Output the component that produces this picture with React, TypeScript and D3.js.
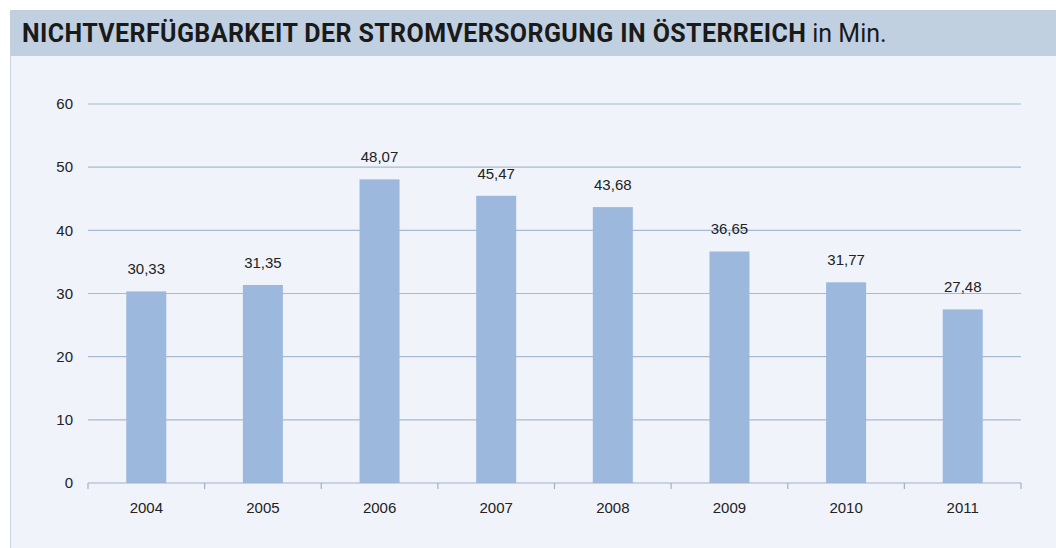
import React from "react";
import * as d3 from "d3";

const years = ["2004", "2005", "2006", "2007", "2008", "2009", "2010", "2011"];
const values = [30.33, 31.35, 48.07, 45.47, 43.68, 36.65, 31.77, 27.48];
const yTicks = [0, 10, 20, 30, 40, 50, 60];

const W = 1056;
const H = 548;
const M = { left: 88, right: 1021, top: 104, bottom: 483 };

export default function App() {
  const x = d3.scaleBand<string>().domain(years).range([M.left, M.right]).paddingInner(0.657).paddingOuter(0.328);
  const xb = d3.scaleBand<string>().domain(years).range([M.left, M.right]);
  const y = d3.scaleLinear().domain([0, 60]).range([M.bottom, M.top]);
  const fmt = (v: number) => v.toFixed(2).replace(".", ",");
  return (
    <svg width={W} height={H} style={{ position: "absolute", left: 0, top: 0 }} fontFamily="'Liberation Sans', Arial, sans-serif">
      <rect x={0} y={0} width={W} height={H} fill="#ffffff" />
      <rect x={10} y={56} width={W - 10} height={H - 56} fill="#F0F3F9" />
      <line x1={10.5} x2={10.5} y1={56} y2={H} stroke="#C8D4E4" />
      <rect x={10} y={10} width={W - 10} height={46} fill="#C0D0E1" />
      <text x={22} y={42} fontSize={25} fill="#1a1a1a" fontFamily="Roboto, 'Liberation Sans', sans-serif">
        <tspan fontWeight="bold" letterSpacing={0.4}>NICHTVERFÜGBARKEIT DER STROMVERSORGUNG IN ÖSTERREICH</tspan>
        <tspan dx={6}>in Min.</tspan>
      </text>
      {yTicks.map((t) => (
        <g key={t}>
          {t > 0 && <line x1={M.left} x2={M.right} y1={y(t)} y2={y(t)} stroke="#AAB9D2" strokeWidth={1.2} />}
          <text x={73} y={y(t)} dy="0.35em" textAnchor="end" fontSize={15} fill="#222">{t}</text>
        </g>
      ))}
      {years.map((yr, i) => (
        <g key={yr}>
          <rect x={x(yr)} y={y(values[i])} width={x.bandwidth()} height={M.bottom - y(values[i])} fill="#9CB9DD" />
          <text x={(x(yr) as number) + x.bandwidth() / 2} y={y(values[i]) - 17} textAnchor="middle" fontSize={15} fill="#222">{fmt(values[i])}</text>
          <text x={(xb(yr) as number) + xb.bandwidth() / 2} y={513} textAnchor="middle" fontSize={15} fill="#222">{yr}</text>
        </g>
      ))}
      <line x1={M.left} x2={M.right} y1={M.bottom} y2={M.bottom} stroke="#A0B1CB" strokeWidth={1.2} />
      {years.concat(["end"]).map((yr, i) => {
        const xx = M.left + i * xb.step();
        return <line key={i} x1={xx} x2={xx} y1={M.bottom} y2={M.bottom + 6} stroke="#A0B1CB" strokeWidth={1.2} />;
      })}
    </svg>
  );
}
